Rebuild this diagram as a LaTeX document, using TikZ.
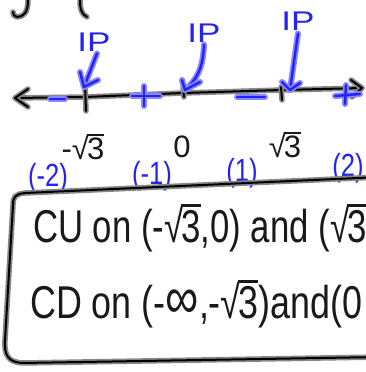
\documentclass[tikz,border=0pt]{standalone}
\usepackage{fontspec}
\setmainfont{Liberation Sans}
\usepackage{graphicx}
\definecolor{pen}{RGB}{35,35,245}
\definecolor{penhalo}{RGB}{135,135,255}
\definecolor{inkhalo}{RGB}{135,135,135}
\definecolor{inktext}{RGB}{25,25,25}
% square root: radical sign with a bar over its argument
\newcommand{\rt}[1]{√\kern-0.06em\vbox{\hrule height 0.075em\kern0.06em\hbox{#1}}}
\begin{document}
\begin{tikzpicture}[x=1pt,y=-1pt,
  ink/.style={draw=black,line width=2pt,line cap=round,line join=round,
    preaction={draw=inkhalo,line width=5.5pt,line cap=round,line join=round}},
  bink/.style={draw=pen,line width=2.4pt,line cap=round,line join=round,
    preaction={draw=penhalo,line width=6pt,line cap=round,line join=round}},
  lbl/.style={inner sep=0pt,text=inktext,font=\fontsize{31}{31}\selectfont},
  blbl/.style={inner sep=0pt,text=pen,font=\fontsize{32}{32}\selectfont},
  iplbl/.style={inner sep=0pt,text=pen,font=\fontsize{27}{27}\selectfont},
  big/.style={inner sep=0pt,anchor=base west,text=inktext,font=\fontsize{46}{46}\selectfont}]
\clip (0,0) rectangle (366,372);
\fill[white] (0,0) rectangle (366,372);
% fragments at the top edge
\draw[ink] (28,0) .. controls (28,12) and (24,17) .. (17,17) .. controls (14,17) and (13,14) .. (13,12);
\draw[ink] (80,0) .. controls (80,8) and (81,14) .. (87,17);
% number line
\coordinate (L) at (15,98);
\coordinate (R) at (362,88);
\draw[ink] (L) -- (85,97) -- (183,93) -- (282,90) -- (R);
\draw[ink] (L) ++(13,-9) -- (L) -- ++(13,9);
\draw[ink] (R) ++(-11,-8) -- (R) -- ++(-10,9);
% ticks
\coordinate (t1) at (85,97);
\coordinate (t2) at (183,93);
\coordinate (t3) at (282,90);
\draw[ink] (t1) ++(0,-12) -- ++(1,26);
\draw[ink] (t2) ++(0,-6) -- ++(1,10);
\draw[ink] (t3) ++(-1,-3) -- ++(1,13);
% signs
\draw[bink] (50,99) -- (65,99);
\draw[bink] (132,96) -- (160,96) (144,86) -- (144,106);
\draw[bink] (237,97) -- (265,97);
\draw[bink] (335,96) -- (360,94) (346,85) -- (345,104);
% IP labels and arrows
\node[iplbl] (ip1) at (94,42) {\scalebox{1.3}[1]{IP}};
\node[iplbl] (ip2) at (204,33) {\scalebox{1.3}[1]{IP}};
\node[iplbl] (ip3) at (298,21) {\scalebox{1.3}[1]{IP}};
\coordinate (a1) at (84,87);
\coordinate (a2) at (185,90);
\coordinate (a3) at (290,90);
\draw[bink] (ip1.south) ++(3,2) -- (a1);
\draw[bink] (a1) ++(-4,-15) -- (a1) -- ++(14,-7);
\draw[bink] (ip2.south) ++(0,2) .. controls (203,70) and (196,80) .. (a2);
\draw[bink] (a2) ++(-3,-10) -- (a2) -- ++(15,-8);
\draw[bink] (ip3.south) ++(0,3) -- (a3);
\draw[bink] (a3) ++(-8,-8) -- (a3) -- ++(10,-7);
% values
\node[lbl] (v1) at (83,147) {-\rt{3}};
\node[lbl] (v2) at (182,147) {0};
\node[lbl] (v3) at (285,145) {\rt{3}};
% second derivative values
\node[blbl] (s1) at (48,178) {\scalebox{0.8}[1]{(-2)}};
\node[blbl] (s2) at (152,176) {\scalebox{0.8}[1]{(-1)}};
\node[blbl] (s3) at (242,173) {\scalebox{0.8}[1]{(1)}};
\node[blbl] (s4) at (348,168) {\scalebox{0.8}[1]{(2)}};
% box
\draw[ink] (380,177) -- (25,193) .. controls (15,194) and (13,197) .. (13,205)
  -- (5,340) .. controls (4,355) and (8,362) .. (22,363) -- (380,357);
% statements
\node[big] (cu) at (33,242) {\scalebox{0.755}[1]{CU on (-\rt{3},0) and (\rt{3}}};
\node[big] (cd) at (30,318) {\scalebox{0.78}[1]{CD on (-\scalebox{1.3}{∞},-\rt{3})and(0}};
\end{tikzpicture}
\end{document}
